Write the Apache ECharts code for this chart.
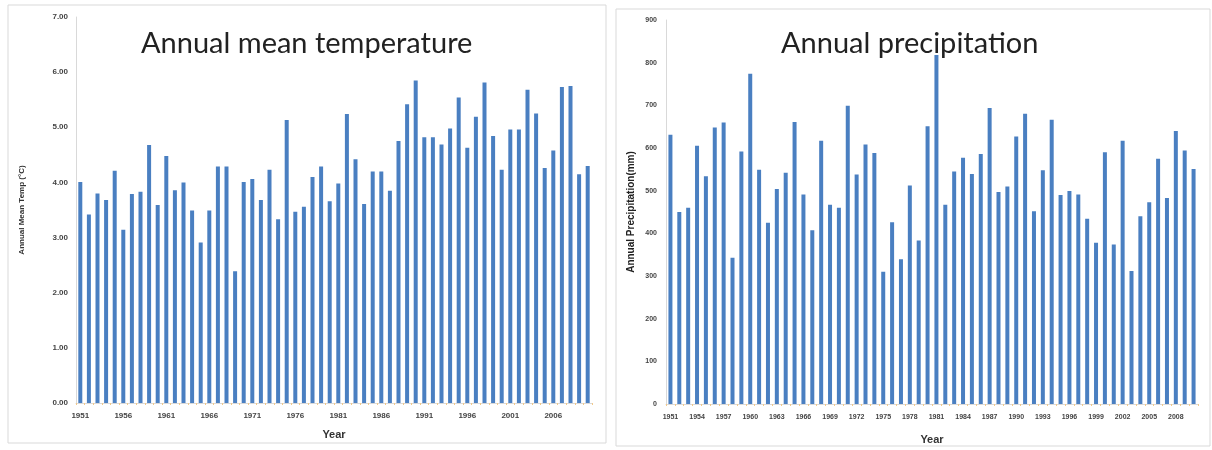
<!DOCTYPE html>
<html>
<head>
<meta charset="utf-8">
<script src="https://cdn.jsdelivr.net/npm/echarts@6/dist/echarts.min.js"></script>
<style>
  html, body { margin: 0; padding: 0; background: #fff; }
  #chart { width: 1212px; height: 450px; }
</style>
</head>
<body>
<div id="chart"></div>
<script>
// years 1951 - 2010
const years = [];
for (let y = 1951; y <= 2010; y++) years.push(String(y));

// annual mean temperature (°C)
const tempValues = [
  4.01, 3.42, 3.80, 3.68, 4.21, 3.14, 3.79, 3.83, 4.68, 3.59,
  4.48, 3.86, 4.00, 3.49, 2.91, 3.49, 4.29, 4.29, 2.39, 4.01,
  4.06, 3.68, 4.23, 3.33, 5.13, 3.47, 3.56, 4.10, 4.29, 3.66,
  3.98, 5.24, 4.42, 3.61, 4.20, 4.20, 3.85, 4.75, 5.42, 5.85,
  4.82, 4.82, 4.69, 4.98, 5.54, 4.63, 5.19, 5.81, 4.84, 4.23,
  4.96, 4.96, 5.68, 5.25, 4.26, 4.58, 5.73, 5.75, 4.15, 4.30
];

// annual precipitation (mm)
const precipValues = [
  631, 450, 460, 605, 534, 648, 660, 343, 592, 774,
  549, 425, 504, 542, 661, 491, 407, 617, 467, 460,
  699, 538, 608, 588, 310, 426, 339, 512, 383, 651,
  818, 467, 545, 577, 539, 586, 694, 497, 510, 627,
  680, 452, 548, 666, 490, 499, 491, 434, 378, 590,
  374, 617, 312, 440, 473, 575, 483, 640, 594, 551
];

const tempTicks = { min: 0, max: 7, interval: 1 };
const precipTicks = { min: 0, max: 900, interval: 100 };

const barColor = '#4a7fc1';
const labelFont = 'Liberation Sans';

function catAxis(gridIndex, labelInterval, fontSize, margin, nameGap) {
  return {
    type: 'category',
    gridIndex: gridIndex,
    data: years,
    name: 'Year',
    nameLocation: 'middle',
    nameGap: nameGap,
    nameTextStyle: { fontFamily: labelFont, fontSize: 11, fontWeight: 'bold', color: '#333' },
    axisLine: { lineStyle: { color: '#d9d9d9', width: 1 } },
    axisTick: { show: true, interval: 0, length: 2, lineStyle: { color: '#f2c98a' } },
    axisLabel: {
      interval: labelInterval,
      margin: margin,
      fontFamily: labelFont,
      fontSize: fontSize,
      fontWeight: 'bold',
      color: '#444'
    }
  };
}

const chart = echarts.init(document.getElementById('chart'));
chart.setOption({
  animation: false,
  backgroundColor: '#fff',
  graphic: [
    { type: 'rect', shape: { x: 8, y: 5, width: 598, height: 438 },
      style: { fill: 'none', stroke: '#d9d9d9', lineWidth: 1 }, z: -1 },
    { type: 'rect', shape: { x: 616, y: 9, width: 594, height: 437 },
      style: { fill: 'none', stroke: '#d9d9d9', lineWidth: 1 }, z: -1 }
  ],
  title: [
    { text: 'Annual mean temperature', left: 136, top: 24,
      textStyle: { fontFamily: 'Lato', fontSize: 29, fontWeight: 'normal', color: '#222' } },
    { text: 'Annual precipitation', left: 776, top: 24,
      textStyle: { fontFamily: 'Lato', fontSize: 29, fontWeight: 'normal', color: '#222' } }
  ],
  grid: [
    { left: 76, top: 17, width: 516, height: 386 },
    { left: 666, top: 20, width: 532, height: 385 }
  ],
  xAxis: [
    catAxis(0, 4, 8, 9, 26),
    catAxis(1, 2, 7, 10, 30)
  ],
  yAxis: [
    {
      type: 'value', gridIndex: 0,
      min: tempTicks.min, max: tempTicks.max, interval: tempTicks.interval,
      name: 'Annual Mean Temp (°C)',
      nameLocation: 'middle',
      nameGap: 50,
      nameTextStyle: { fontFamily: labelFont, fontSize: 8, fontWeight: 'bold', color: '#333' },
      axisLine: { show: true, lineStyle: { color: '#d9d9d9' } },
      axisTick: { show: false },
      splitLine: { show: false },
      axisLabel: {
        margin: 8, fontFamily: labelFont, fontSize: 8, fontWeight: 'bold', color: '#444',
        formatter: (v) => v.toFixed(2)
      }
    },
    {
      type: 'value', gridIndex: 1,
      min: precipTicks.min, max: precipTicks.max, interval: precipTicks.interval,
      name: 'Annual Precipitation(mm)',
      nameLocation: 'middle',
      nameGap: 30,
      nameTextStyle: { fontFamily: labelFont, fontSize: 10, fontWeight: 'bold', color: '#222' },
      axisLine: { show: true, lineStyle: { color: '#d9d9d9' } },
      axisTick: { show: false },
      splitLine: { show: false },
      axisLabel: { margin: 9, fontFamily: labelFont, fontSize: 7, fontWeight: 'bold', color: '#444' }
    }
  ],
  series: [
    { type: 'bar', xAxisIndex: 0, yAxisIndex: 0, data: tempValues, barWidth: 4,
      itemStyle: { color: barColor } },
    { type: 'bar', xAxisIndex: 1, yAxisIndex: 1, data: precipValues, barWidth: 4,
      itemStyle: { color: barColor } }
  ]
});
</script>
</body>
</html>
